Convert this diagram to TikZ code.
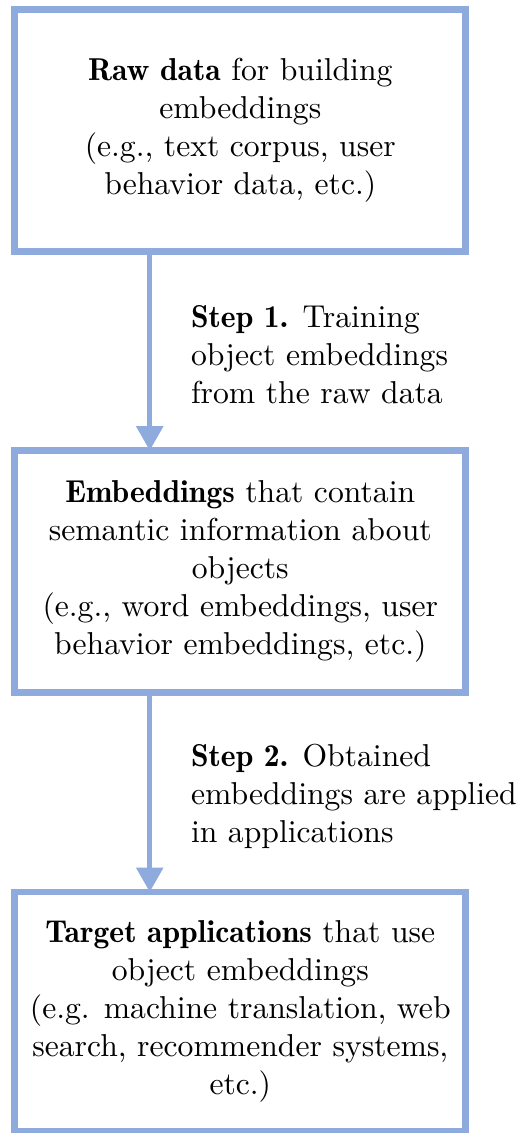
\documentclass[tikz,border=0pt]{standalone}
\usepackage{xcolor}
\usepackage{tikz}
\usetikzlibrary{arrows.meta}
\usetikzlibrary{positioning}
\definecolor{stageblue}{RGB}{143,170,220}
\newcommand{\keyterm}[1]{{\fontseries{b}\selectfont #1}}
\tikzset{
stage box/.style = { rectangle, draw = stageblue, line width = 2.2pt, fill = white, minimum width = 5.01cm, minimum height = 2.69cm, align = center, outer sep = 0pt, inner sep = 2pt },
step arrow/.style = { draw = stageblue, line width = 1.6pt, -{Triangle[width = 0.29cm, length = 0.27cm]} },
step note/.style = { anchor = west, align = left, inner sep = 0pt, xshift = 0.43cm, yshift = -0.04cm, text = black },
}

\begin{document}
\begin{tikzpicture}
    \useasboundingbox (0, 0) rectangle (5.739, -12.576);
    \node[stage box] (raw) at (2.667, -1.446) {\keyterm{Raw data} for building\\ embeddings\\ (e.g., text corpus, user\\ behavior data, etc.)};
    \node[stage box, below = 2.21cm of raw] (emb) {\keyterm{Embeddings} that contain\\ semantic information about\\ objects\\ (e.g., word embeddings, user\\ behavior embeddings, etc.)};
    \node[stage box, below = 2.21cm of emb, minimum height = 2.66cm] (app) {\keyterm{Target applications} that use\\ object embeddings\\ (e.g. machine translation, web\\ search, recommender systems,\\ etc.)};
    % arrows leave the boxes 1.5cm from their left side
    \coordinate (s1) at ([xshift = 1.5cm]raw.south west);
    \coordinate (s2) at ([xshift = 1.5cm]emb.south west);
    \draw[step arrow] (s1) -- (s1 |- emb.north) node[midway, step note] {\keyterm{Step 1.} Training\\ object embeddings\\ from the raw data};
    \draw[step arrow] (s2) -- (s2 |- app.north) node[midway, step note] {\keyterm{Step 2.} Obtained\\ embeddings are applied\\ in applications};
\end{tikzpicture}
\end{document}
